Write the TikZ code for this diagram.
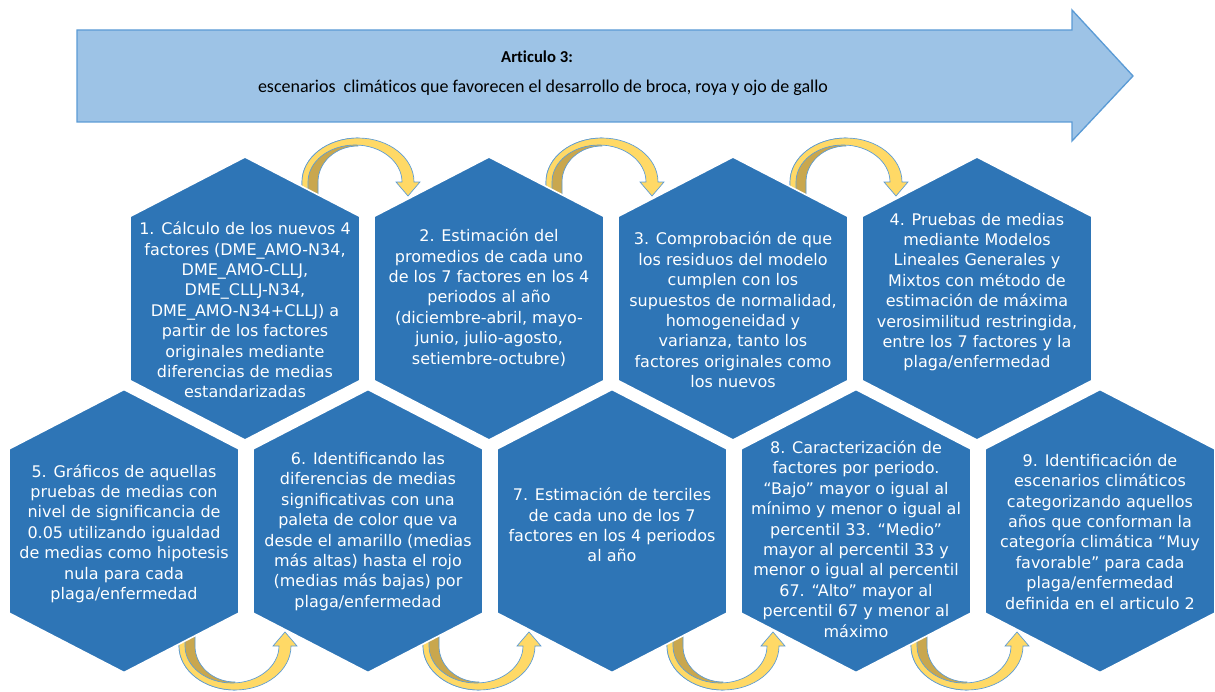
\documentclass[tikz,border=0pt]{standalone}
\usepackage{fontspec}
\setmainfont{DejaVu Sans}
\newfontfamily\titlefont[Ligatures=NoCommon]{Carlito}
\usetikzlibrary{calc}
\definecolor{hexblue}{HTML}{2E75B6}
\definecolor{arrfill}{HTML}{9DC3E6}
\definecolor{arrline}{HTML}{5B9BD5}
\definecolor{ylight}{HTML}{FFD966}
\definecolor{ydark}{HTML}{C9A74E}
\definecolor{yline}{HTML}{5B9BD5}
\newcommand\hexat[1]{\path[hexfill, shift={(#1)}] (0,-141.5) -- (115,-82) -- (115,82) -- (0,141.5) -- (-115,82) -- (-115,-82) -- cycle;}
\newcommand\yarrow[2]{%
\begin{scope}[shift={(#1)}, yscale=#2]
 \filldraw[ydarkst] (0,22) -- (0,0) arc[start angle=180, end angle=270, x radius=56, y radius=44] -- (56,-36) arc[start angle=270, end angle=180, x radius=40, y radius=36] -- (16,22) -- cycle;
 \filldraw[ylightst] (0,22) -- (0,0) arc[start angle=180, end angle=360, x radius=56, y radius=44] -- (118,0) -- (106,14) -- (94,0) -- (100,0) arc[start angle=0, end angle=-180, x radius=47, y radius=37] -- (6,22) -- cycle;
\end{scope}}
\begin{document}
\begin{tikzpicture}[x=0.75pt,y=-0.75pt,
  hexfill/.style={fill=hexblue, draw=white, line width=1.2pt},
  hextext/.style={text=white, align=center, font=\fontsize{12}{15.3}\selectfont, inner sep=0pt},
  bigarrow/.style={fill=arrfill, draw=arrline, line width=1pt},
  ydarkst/.style={fill=ydark, draw=yline, line width=0.5pt},
  ylightst/.style={fill=ylight, draw=yline, line width=0.5pt},
  titlest/.style={font=\titlefont\fontsize{13.5}{15}\selectfont, inner sep=0pt}]
\useasboundingbox (0,0) rectangle (1215,692);

% big arrow
\path[bigarrow] (77,30) -- (1072,30) -- (1072,10) -- (1133,76) -- (1072,141) -- (1072,122) -- (77,122) -- cycle;
\node[titlest, font=\titlefont\bfseries\fontsize{12.5}{14}\selectfont] (title) at (537,57) {Articulo 3:};
\node[titlest] (subtitle) at (543,88) {escenarios~ climáticos que favorecen el desarrollo de broca, roya y ojo de gallo};

% hex centres
\coordinate (c1) at (245,298.5);
\coordinate (c2) at (489,298.5);
\coordinate (c3) at (733,298.5);
\coordinate (c4) at (977,298.5);
\coordinate (c5) at (124,531);
\coordinate (c6) at (368,531);
\coordinate (c7) at (612,531);
\coordinate (c8) at (856,531);
\coordinate (c9) at (1100,531);

% curved arrows (drawn behind the hexagons)
\coordinate (a12) at ($(c1)+(57,-116.5)$);
\coordinate (a23) at ($(c2)+(57,-116.5)$);
\coordinate (a34) at ($(c3)+(57,-116.5)$);
\coordinate (a56) at ($(c5)+(55,115)$);
\coordinate (a67) at ($(c6)+(55,115)$);
\coordinate (a78) at ($(c7)+(55,115)$);
\coordinate (a89) at ($(c8)+(55,115)$);
\yarrow{a12}{1}
\yarrow{a23}{1}
\yarrow{a34}{1}
\yarrow{a56}{-1}
\yarrow{a67}{-1}
\yarrow{a78}{-1}
\yarrow{a89}{-1}

% hexagons
\hexat{c1}\hexat{c2}\hexat{c3}\hexat{c4}
\hexat{c5}\hexat{c6}\hexat{c7}\hexat{c8}\hexat{c9}

% texts
\node[hextext] (t1) at ($(c1)+(0,11.5)$) {1. Cálculo de los nuevos 4\\factores (DME\_AMO-N34,\\DME\_AMO-CLLJ,\\DME\_CLLJ-N34,\\DME\_AMO-N34+CLLJ) a\\partir de los factores\\originales mediante\\diferencias de medias\\estandarizadas};
\node[hextext] (t2) at ($(c2)+(0,-1)$) {2. Estimación del\\promedios de cada uno\\de los 7 factores en los 4\\periodos al año\\(diciembre-abril, mayo-\\junio, julio-agosto,\\setiembre-octubre)};
\node[hextext] (t3) at ($(c3)+(0,11.5)$) {3. Comprobación de que\\los residuos del modelo\\cumplen con los\\supuestos de normalidad,\\homogeneidad y\\varianza, tanto los\\factores originales como\\los nuevos};
\node[hextext] (t4) at ($(c4)+(0,-6.5)$) {4. Pruebas de medias\\mediante Modelos\\Lineales Generales y\\Mixtos con método de\\estimación de máxima\\verosimilitud restringida,\\entre los 7 factores y la\\plaga/enfermedad};
\node[hextext] (t5) at ($(c5)+(0,2.5)$) {5. Gráficos de aquellas\\pruebas de medias con\\nivel de significancia de\\0.05 utilizando igualdad\\de medias como hipotesis\\nula para cada\\plaga/enfermedad};
\node[hextext] (t6) at ($(c6)+(0,0.5)$) {6. Identificando las\\diferencias de medias\\significativas con una\\paleta de color que va\\desde el amarillo (medias\\más altas) hasta el rojo\\(medias más bajas) por\\plaga/enfermedad};
\node[hextext] (t7) at ($(c7)+(0,-6)$) {7. Estimación de terciles\\de cada uno de los 7\\factores en los 4 periodos\\al año};
\node[hextext] (t8) at ($(c8)+(0,8)$) {8. Caracterización de\\factores por periodo.\\“Bajo” mayor o igual al\\mínimo y menor o igual al\\percentil 33. “Medio”\\mayor al percentil 33 y\\menor o igual al percentil\\67. “Alto” mayor al\\percentil 67 y menor al\\máximo};
\node[hextext] (t9) at ($(c9)+(0,0.5)$) {9. Identificación de\\escenarios climáticos\\categorizando aquellos\\años que conforman la\\categoría climática “Muy\\favorable” para cada\\plaga/enfermedad\\definida en el articulo 2};
\end{tikzpicture}
\end{document}
